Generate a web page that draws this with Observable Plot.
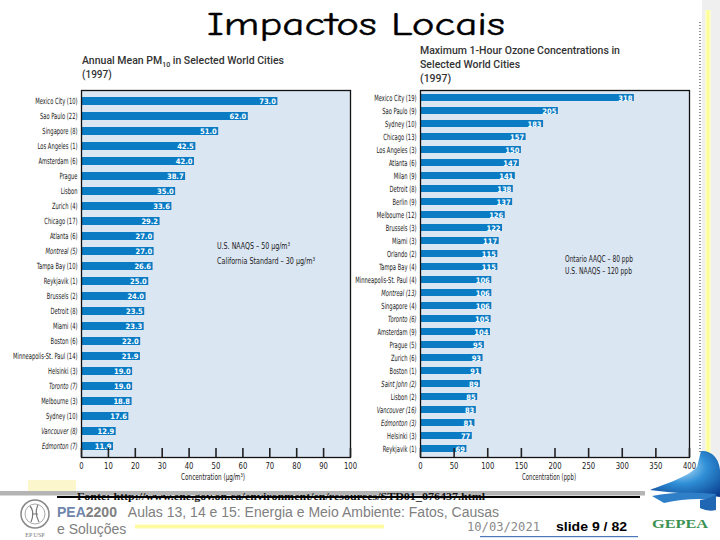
<!DOCTYPE html>
<html><head><meta charset="utf-8">
<script src="https://cdn.jsdelivr.net/npm/d3@7"></script>
<script src="https://cdn.jsdelivr.net/npm/@observablehq/plot@0.6"></script>
<style>
body{margin:0;background:#fff;}
#page{position:relative;width:720px;height:540px;overflow:hidden;background:#fff;}
#page svg{position:absolute;}
</style></head><body><div id="page"></div>
<script>
// ---------- data ----------
const pmCities = ["Mexico City (10)","Sao Paulo (22)","Singapore (8)","Los Angeles (1)","Amsterdam (6)","Prague","Lisbon","Zurich (4)","Chicago (17)","Atlanta (6)","Montreal (5)","Tampa Bay (10)","Reykjavik (1)","Brussels (2)","Detroit (8)","Miami (4)","Boston (6)","Minneapolis-St. Paul (14)","Helsinki (3)","Toronto (7)","Melbourne (3)","Sydney (10)","Vancouver (8)","Edmonton (7)"];
const pmValues = [73.0,62.0,51.0,42.5,42.0,38.7,35.0,33.6,29.2,27.0,27.0,26.6,25.0,24.0,23.5,23.3,22.0,21.9,19.0,19.0,18.8,17.6,12.9,11.9];
const pmTicks = [0,10,20,30,40,50,60,70,80,90,100];

const ozCities = ["Mexico City (19)","Sao Paulo (9)","Sydney (10)","Chicago (13)","Los Angeles (3)","Atlanta (6)","Milan (9)","Detroit (8)","Berlin (9)","Melbourne (12)","Brussels (3)","Miami (3)","Orlando (2)","Tampa Bay (4)","Minneapolis-St. Paul (4)","Montreal (13)","Singapore (4)","Toronto (6)","Amsterdam (9)","Prague (5)","Zurich (6)","Boston (1)","Saint John (2)","Lisbon (2)","Vancouver (16)","Edmonton (3)","Helsinki (3)","Reykjavik (1)"];
const ozValues = [318,205,183,157,150,147,141,138,137,126,122,117,115,115,106,106,106,105,104,95,93,91,89,85,83,81,77,69];
const ozTicks = [0,50,100,150,200,250,300,350,400];

const canadianCities = ["Montreal","Toronto","Vancouver","Edmonton","Saint John"];

// ---------- styles ----------
const narrow = "'Liberation Sans Narrow','DejaVu Sans Condensed',sans-serif";
const barBlue = "#0b7cc4";
const frameBg = "#dbe6f3";

const page = document.getElementById("page");

function makeChart(cities, values, ticks, xmax, fmt, width, marginRight) {
  const data = cities.map((c, i) => ({c, v: values[i]}));
  const svg = Plot.plot({
    width, height: 401,
    marginLeft: 80, marginRight, marginTop: 4, marginBottom: 30,
    style: {background: "transparent", fontFamily: narrow, fontSize: "8.5px", color: "#1a1a1a", overflow: "visible"},
    x: {domain: [0, xmax]},
    y: {domain: cities, paddingInner: 0.46, paddingOuter: 0.23},
    marks: [
      Plot.frame({fill: frameBg, stroke: null}),
      Plot.barX(data, {x: "v", y: "c", fill: barBlue}),
      Plot.text(data, {x: "v", y: "c", text: d => fmt(d.v), textAnchor: "end", dx: -2, dy: 0.5,
        fill: "white", fontWeight: "bold", fontSize: 7.5}),
      Plot.frame({stroke: "#111", strokeWidth: 1.3}),
      Plot.axisX({ticks, tickSize: 9, dy: -9, tickFormat: () => "", label: null, stroke: "#222", strokeWidth: 1.6}),
      Plot.axisX({ticks, tickSize: 0, tickPadding: 5, label: null, fontSize: 9, fill: "#1a1a1a"}),
      Plot.axisY({tickSize: 0, tickPadding: 4, label: null, fontSize: 8.5, fill: "#1a1a1a"})
    ]
  });
  d3.select(svg).selectAll('g[aria-label="y-axis tick label"] text').each(function() {
    const t = d3.select(this);
    t.attr("transform", (t.attr("transform") || "") + " scale(0.68,1)");
    const name = t.text();
    if (canadianCities.some(p => name.startsWith(p))) t.attr("font-style", "italic");
  });
  d3.select(svg).selectAll('g[aria-label="x-axis tick label"] text').each(function() {
    const t = d3.select(this);
    t.attr("transform", (t.attr("transform") || "") + " scale(0.85,1)");
  });
  return svg;
}

const left = makeChart(pmCities, pmValues, pmTicks, 100, v => v.toFixed(1), 356, 7);
left.style.left = "0.5px"; left.style.top = "86px";
page.appendChild(left);

const right = makeChart(ozCities, ozValues, ozTicks, 400, v => String(v), 360, 11);
right.style.left = "340px"; right.style.top = "86px";
page.appendChild(right);

// ---------- overlay (titles, notes, slide decorations) ----------
const ov = d3.select(page).append("svg")
  .attr("width", 720).attr("height", 540)
  .style("left", "0px").style("top", "0px").style("pointer-events", "none");

const defs = ov.append("defs");
const yg = defs.append("linearGradient").attr("id", "yel").attr("x1", 0).attr("x2", 1);
yg.append("stop").attr("offset", 0).attr("stop-color", "#fbfbe0");
yg.append("stop").attr("offset", 0.5).attr("stop-color", "#ffff8a");
yg.append("stop").attr("offset", 1).attr("stop-color", "#fbfbe0");
const yh = defs.append("linearGradient").attr("id", "yelh").attr("x1", 0).attr("x2", 0).attr("y1", 0).attr("y2", 1);
yh.append("stop").attr("offset", 0).attr("stop-color", "#fdfde8");
yh.append("stop").attr("offset", 0.5).attr("stop-color", "#fff98a");
yh.append("stop").attr("offset", 1).attr("stop-color", "#fdfde8");
const rg = defs.append("radialGradient").attr("id", "globe").attr("cx", 0.45).attr("cy", 0.35).attr("r", 0.8);
rg.append("stop").attr("offset", 0).attr("stop-color", "#bfe6fb");
rg.append("stop").attr("offset", 0.45).attr("stop-color", "#2f8fd6");
rg.append("stop").attr("offset", 1).attr("stop-color", "#0a3f8f");

// right side strip
ov.append("rect").attr("x", 702).attr("y", 0).attr("width", 18).attr("height", 462).attr("fill", "#efefef");
ov.append("rect").attr("x", 705).attr("y", 10).attr("width", 6).attr("height", 452).attr("fill", "url(#yel)");
ov.append("line").attr("x1", 700).attr("x2", 700).attr("y1", 22).attr("y2", 452)
  .attr("stroke", "#222").attr("stroke-width", 1).attr("stroke-dasharray", "1,2");

// main title
ov.append("text").attr("x", 207).attr("y", 35).text("Impactos Locais")
  .attr("font-family", "'Comic Sans MS','Comic Neue','DejaVu Sans',sans-serif")
  .attr("font-size", 32).attr("fill", "#000").attr("stroke", "#000").attr("stroke-width", 0.4)
  .attr("textLength", 298).attr("lengthAdjust", "spacingAndGlyphs");

// chart titles
const titleFont = "Roboto,'Liberation Sans',sans-serif";
const t1 = ov.append("text").attr("x", 82).attr("y", 64).attr("font-family", titleFont)
  .attr("font-size", 10.5).attr("font-weight", 500).attr("fill", "#333");
t1.append("tspan").text("Annual Mean PM");
t1.append("tspan").attr("font-size", 7).attr("dy", 2.5).text("10");
t1.append("tspan").attr("dy", -2.5).text(" in Selected World Cities");
ov.append("text").attr("x", 82).attr("y", 78).attr("font-family", titleFont)
  .attr("font-size", 10).attr("font-weight", 500).attr("fill", "#333").text("(1997)");

[["Maximum 1-Hour Ozone Concentrations in", 54], ["Selected World Cities", 68], ["(1997)", 82]].forEach(([s, y]) =>
  ov.append("text").attr("x", 420).attr("y", y).attr("font-family", titleFont)
    .attr("font-size", 10.5).attr("font-weight", 500).attr("fill", "#333").text(s));

// standards notes
function note(s, x, y, len) {
  ov.append("text").attr("x", x).attr("y", y).text(s)
    .attr("font-family", narrow).attr("font-size", 9.5).attr("fill", "#1a1a1a")
    .attr("textLength", len).attr("lengthAdjust", "spacingAndGlyphs");
}
note("U.S. NAAQS – 50 µg/m³", 217, 249, 73);
note("California Standard – 30 µg/m³", 217, 263.5, 98);
note("Ontario AAQC – 80 ppb", 565, 261.5, 68);
note("U.S. NAAQS – 120 ppb", 565, 274, 67);

// axis titles
ov.append("text").attr("x", 213).attr("y", 480).attr("text-anchor", "middle")
  .attr("font-family", narrow).attr("font-size", 8.5).attr("fill", "#1a1a1a").text("Concentration (µg/m³)")
  .attr("textLength", 64).attr("lengthAdjust", "spacingAndGlyphs");
ov.append("text").attr("x", 549).attr("y", 480).attr("text-anchor", "middle")
  .attr("font-family", narrow).attr("font-size", 8.5).attr("fill", "#1a1a1a").text("Concentration (ppb)")
  .attr("textLength", 54).attr("lengthAdjust", "spacingAndGlyphs");

// footer
ov.append("rect").attr("x", 28).attr("y", 480).attr("width", 48).attr("height", 11).attr("fill", "#fbf6cc");
ov.append("rect").attr("x", 0).attr("y", 491).attr("width", 645).attr("height", 4.5).attr("fill", "#b4b4b4");
ov.append("text").attr("x", 77).attr("y", 500).text("Fonte: http://www.ene.gov.on.ca/environment/en/resources/STD01_076437.html")
  .attr("font-family", "'Liberation Serif','Times New Roman',serif").attr("font-weight", "bold")
  .attr("font-size", 11).attr("fill", "#111")
  .attr("textLength", 408).attr("lengthAdjust", "spacingAndGlyphs");
ov.append("rect").attr("x", 57).attr("y", 496).attr("width", 583).attr("height", 2).attr("fill", "#000");

const f1 = ov.append("text").attr("x", 57).attr("y", 517)
  .attr("font-family", "'Liberation Sans',Arial,sans-serif").attr("font-size", 14).attr("fill", "#808080");
f1.append("tspan").attr("font-weight", "bold").attr("fill", "#6f86ac").text("PEA");
f1.append("tspan").attr("font-weight", "bold").text("2200");
f1.append("tspan").text("\u00a0\u00a0 Aulas 13, 14 e 15: Energia e Meio Ambiente: Fatos, Causas");
ov.append("rect").attr("x", 135).attr("y", 524).attr("width", 249).attr("height", 5).attr("fill", "url(#yelh)");
ov.append("text").attr("x", 57).attr("y", 534)
  .attr("font-family", "'Liberation Sans',Arial,sans-serif").attr("font-size", 14).attr("fill", "#808080")
  .text("e Soluções");
ov.append("text").attr("x", 467).attr("y", 531)
  .attr("font-family", "'DejaVu Sans Mono',monospace").attr("font-size", 12).attr("fill", "#8a8a8a")
  .text("10/03/2021").attr("textLength", 73).attr("lengthAdjust", "spacingAndGlyphs");
ov.append("text").attr("x", 556).attr("y", 531)
  .attr("font-family", "'Liberation Sans',Arial,sans-serif").attr("font-weight", "bold").attr("font-size", 12.5).attr("fill", "#000")
  .text("slide 9 / 82").attr("textLength", 71).attr("lengthAdjust", "spacingAndGlyphs");
ov.append("rect").attr("x", 480).attr("y", 536).attr("width", 158).attr("height", 1.2).attr("fill", "#4a78b8");

// EPUSP crest
ov.append("circle").attr("cx", 35).attr("cy", 514).attr("r", 14).attr("fill", "none").attr("stroke", "#888").attr("stroke-width", 1.5);
ov.append("circle").attr("cx", 35).attr("cy", 514).attr("r", 10).attr("fill", "none").attr("stroke", "#aaa").attr("stroke-width", 1);
ov.append("path").attr("d", "M30,506 Q35,512 31,522 M38,505 Q34,513 39,522 M32,514 L38,514").attr("fill", "none").attr("stroke", "#777").attr("stroke-width", 1.2);
ov.append("text").attr("x", 35).attr("y", 537).attr("text-anchor", "middle")
  .attr("font-family", "'Liberation Serif',serif").attr("font-size", 6).attr("fill", "#777").text("EP USP");

// GEPEA logo
ov.append("path").attr("d", "M701,451 C711,450 719,458 720,470 L720,497 C700,494 672,493 650,490 C665,484 688,477 697,467 Z")
  .attr("fill", "url(#globe)");
ov.append("path").attr("d", "M652,496 Q680,490 716,494 L716,500 Q690,497 664,503 Z").attr("fill", "#2f7fc8");
ov.append("path").attr("d", "M700,500 Q712,498 716,494 L716,510 Q708,512 700,508 Z").attr("fill", "#1f66b3");
ov.append("text").attr("x", 652).attr("y", 528)
  .attr("font-family", "'Liberation Serif',serif").attr("font-weight", "bold").attr("font-size", 13).attr("fill", "#3a9150")
  .text("GEPEA").attr("textLength", 56).attr("lengthAdjust", "spacingAndGlyphs");
</script></body></html>
